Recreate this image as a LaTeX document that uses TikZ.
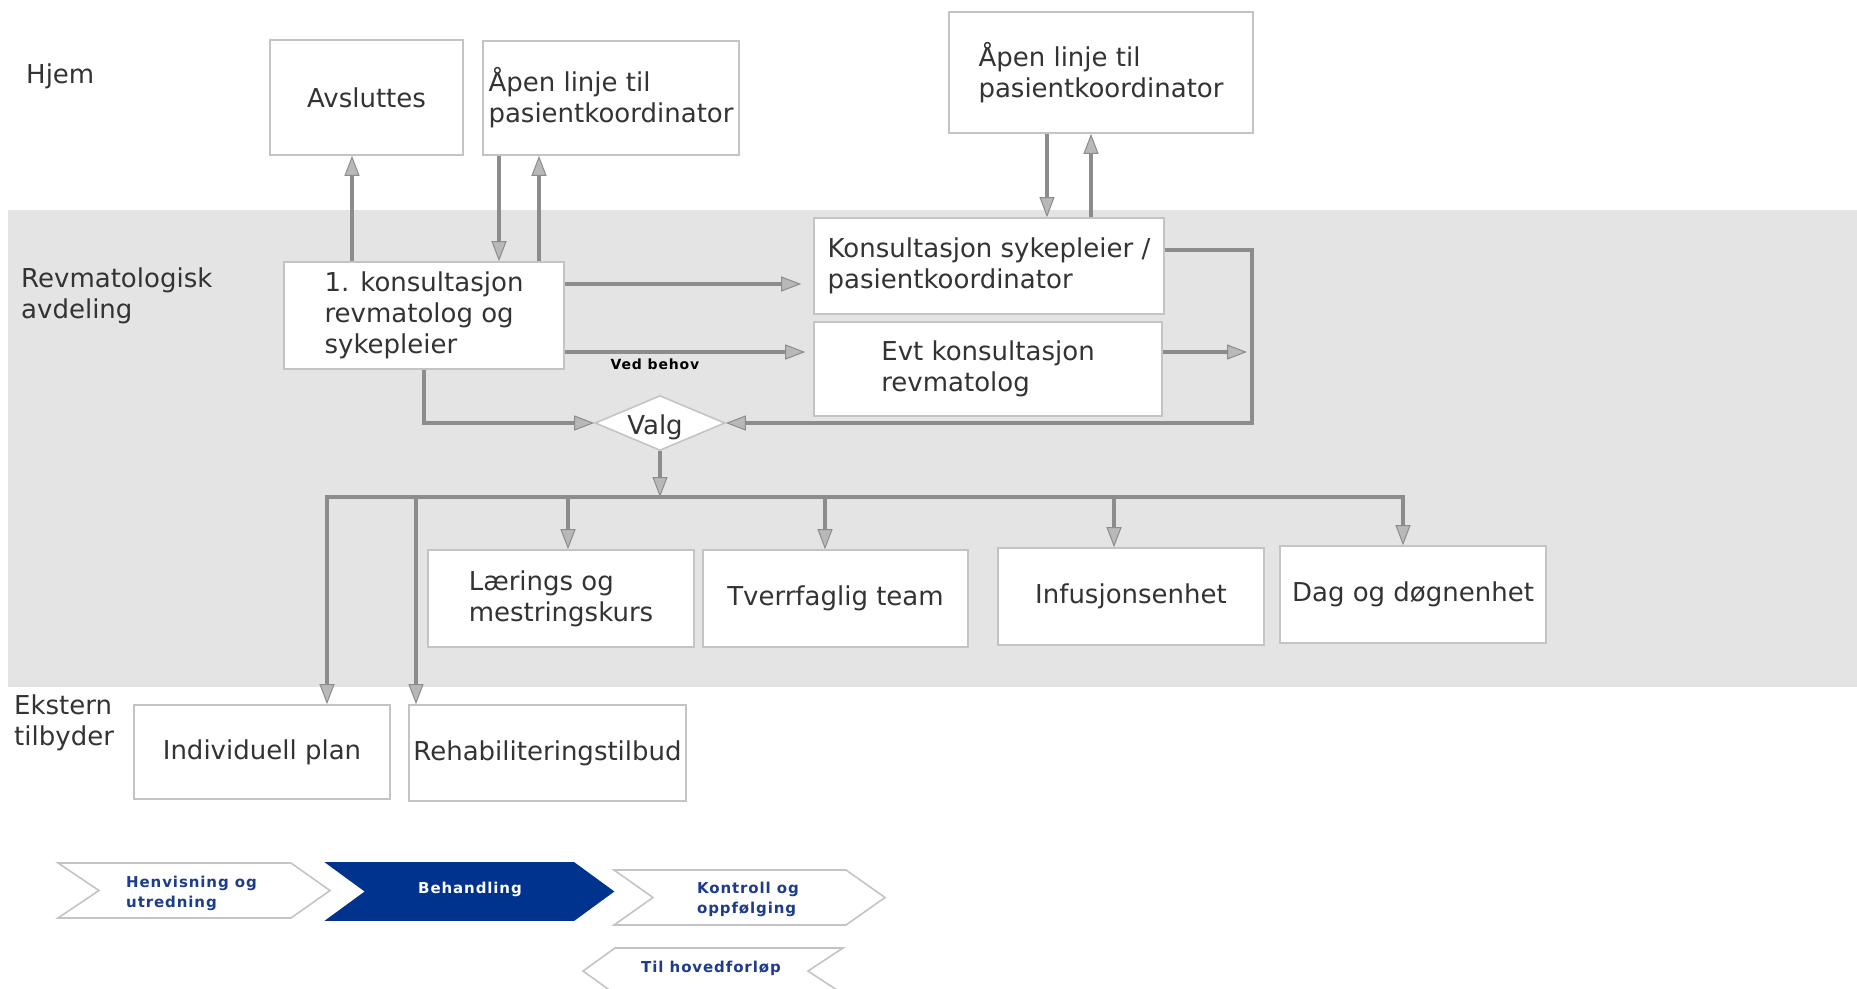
\documentclass[tikz,border=0pt]{standalone}
\usepackage{fontspec}
\setmainfont{DejaVu Sans}
\newfontfamily\spacedfont{DejaVu Sans}[LetterSpace=6]
\usetikzlibrary{arrows.meta,shapes.geometric}
\definecolor{band}{HTML}{E4E4E4}
\definecolor{boxline}{HTML}{C4C4C4}
\definecolor{lncol}{HTML}{8C8C8C}
\definecolor{tipfill}{HTML}{B8B8B8}
\definecolor{txt}{HTML}{333333}
\definecolor{navy}{HTML}{00338D}
\definecolor{navytxt}{HTML}{1E3C8C}
\begin{document}
\begin{tikzpicture}[x=1pt,y=-1pt,
  box/.style={draw=boxline, line width=1.6pt, fill=white, align=left, inner sep=0pt, text=txt, font=\fontsize{26}{31}\selectfont},
  lbl/.style={anchor=west, align=left, text=txt, inner sep=0pt, font=\fontsize{26}{31}\selectfont},
  conn/.style={draw=lncol, line width=3.5pt},
  arr/.style={conn, -{Triangle[length=20pt,width=15pt,fill=tipfill,line width=1pt]}},
  chev/.style={draw=boxline, line width=1.6pt, fill=white},
  chevtxt/.style={text=navytxt, font=\spacedfont\bfseries\fontsize{15}{20}\selectfont, align=left, inner sep=0pt},
]
\useasboundingbox (0,0) rectangle (1857,988);
\fill[band] (8,210) rectangle (1857,687);

% labels
\node[lbl] (hjem) at (26,76) {Hjem};
\node[lbl] (rev) at (21,296) {Revmatologisk\\avdeling};
\node[lbl] (ext) at (14,723) {Ekstern\\tilbyder};

% boxes
\node[box, minimum width=193pt, minimum height=115pt] (av) at (366.5,97.5) {Avsluttes};
\node[box, minimum width=256pt, minimum height=114pt] (ap1) at (611,98) {Åpen linje til\\pasientkoordinator};
\node[box, minimum width=304pt, minimum height=121pt] (ap2) at (1101,72.5) {Åpen linje til\\pasientkoordinator};
\node[box, minimum width=280pt, minimum height=107pt] (k1) at (424,315.5) {1. konsultasjon\\revmatolog og\\sykepleier};
\node[box, minimum width=350pt, minimum height=96pt] (ks) at (989,266) {Konsultasjon sykepleier /\\pasientkoordinator};
\node[box, minimum width=348pt, minimum height=94pt] (ev) at (988,369) {Evt konsultasjon\\revmatolog};
\node[box, diamond, minimum width=130pt, minimum height=55pt] (valg) at (660,423) {};
\node[text=txt, font=\fontsize{26}{31}\selectfont, inner sep=0pt] (valgt) at (655,427) {Valg};
\node[box, minimum width=266pt, minimum height=97pt] (lm) at (561,598.5) {Lærings og\\mestringskurs};
\node[box, minimum width=265pt, minimum height=97pt] (tv) at (835.5,598.5) {Tverrfaglig team};
\node[box, minimum width=266pt, minimum height=97pt] (inf) at (1131,596.5) {Infusjonsenhet};
\node[box, minimum width=266pt, minimum height=97pt] (dag) at (1413,594.5) {Dag og døgnenhet};
\node[box, minimum width=256pt, minimum height=94pt] (ip) at (262,752) {Individuell plan};
\node[box, minimum width=277pt, minimum height=96pt] (rh) at (547.5,753) {Rehabiliteringstilbud};

% helper coordinates
\coordinate (xa) at (352,0);
\coordinate (xb) at (499,0);
\coordinate (xc) at (539,0);
\coordinate (xd) at (1047,0);
\coordinate (xe) at (1091,0);
\coordinate (xr) at (1252,0);
\coordinate (y1) at (0,284);
\coordinate (y2) at (0,352);
\coordinate (y3) at (0,250);
\coordinate (ybus) at (0,497);
\coordinate (b1) at (327,0);
\coordinate (b2) at (416,0);
\coordinate (b3) at (568,0);
\coordinate (b4) at (825,0);
\coordinate (b5) at (1114,0);
\coordinate (b6) at (1403,0);

% connectors
\draw[arr] (xa |- k1.north) -- (xa |- av.south);
\draw[arr] (xb |- ap1.south) -- (xb |- k1.north);
\draw[arr] (xc |- k1.north) -- (xc |- ap1.south);
\draw[arr] (xd |- ap2.south) -- (xd |- ks.north);
\draw[arr] (xe |- ks.north) -- (xe |- ap2.south);
\draw[arr, shorten >=12pt] (k1.east |- y1) -- (ks.west |- y1);
\draw[arr, shorten >=8pt] (k1.east |- y2) -- (ev.west |- y2);
\node[font=\spacedfont\bfseries\fontsize{14}{18}\selectfont, text=black, inner sep=0pt] (vb) at (655,364) {Ved behov};
\draw[arr, line join=miter] (ks.east |- y3) -- (xr |- y3) -- (xr |- valg.east) -- (valg.east);
\draw[arr, shorten >=5pt] (ev.east |- y2) -- (xr |- y2);
\draw[arr, line join=miter] (k1.south) -- (k1.south |- valg.west) -- (valg.west);
\draw[arr] (valg.south) -- (valg.south |- ybus);
\draw[conn, line cap=rect] (b1 |- ybus) -- (b6 |- ybus);
\draw[arr] (b1 |- ybus) -- (b1 |- ip.north);
\draw[arr] (b2 |- ybus) -- (b2 |- rh.north);
\draw[arr] (b3 |- ybus) -- (b3 |- lm.north);
\draw[arr] (b4 |- ybus) -- (b4 |- tv.north);
\draw[arr] (b5 |- ybus) -- (b5 |- inf.north);
\draw[arr] (b6 |- ybus) -- (b6 |- dag.north);

% process chevrons
\draw[chev] (58,863) -- (291,863) -- (330,890.5) -- (291,918) -- (58,918) -- (99,890.5) -- cycle;
\node[chevtxt, anchor=west] (c1) at (126,893) {Henvisning og\\utredning};
\draw[chev, draw=navy, fill=navy] (327,863) -- (574,863) -- (613,891.5) -- (574,920) -- (327,920) -- (366,891.5) -- cycle;
\node[chevtxt, text=white] (c2) at (470,889) {Behandling};
\draw[chev] (614,870) -- (846,870) -- (885,897.5) -- (846,925) -- (614,925) -- (653,897.5) -- cycle;
\node[chevtxt] (c3) at (748,899) {Kontroll og\\oppfølging};
\draw[chev] (615,948) -- (843,948) -- (808,971) -- (843,994) -- (615,994) -- (583,971) -- cycle;
\node[chevtxt] (c4) at (711,968) {Til hovedforløp};
\end{tikzpicture}
\end{document}
